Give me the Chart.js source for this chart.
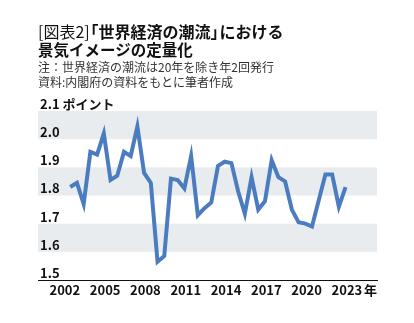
<!DOCTYPE html>
<html lang="ja">
<head>
<meta charset="utf-8">
<script src="https://cdn.jsdelivr.net/npm/chart.js@4/dist/chart.umd.min.js"></script>
<style>
  html, body { margin: 0; padding: 0; background: #fff; }
  #wrap { position: relative; width: 414px; height: 323px; overflow: hidden; font-family: "Noto Sans CJK JP", "Noto Sans", sans-serif; }
  #chart { position: absolute; left: 0; top: 0; }
  .head { position: absolute; left: 38px; color: #111; white-space: nowrap; }
  .t1 { top: 22px; font-size: 16px; font-weight: bold; line-height: 18px; }
  .t1 .light { font-weight: normal; }
  .t1 .ob { margin-left: -0.45em; }
  .t1 .cb { margin-right: -0.45em; }
  .t2 { top: 40px; font-size: 15.5px; font-weight: bold; line-height: 18px; }
  .n1 { top: 59px; font-size: 12px; line-height: 15px; color: #333; }
  .n2 { top: 74px; font-size: 12px; line-height: 15px; color: #333; }
</style>
</head>
<body>
<div id="wrap">
  <canvas id="chart" width="414" height="323"></canvas>
  <div class="head t1"><span class="light">[図表2]</span><span class="ob">「</span>世界経済の潮流<span class="cb">」</span>における</div>
  <div class="head t2">景気イメージの定量化</div>
  <div class="head n1">注：世界経済の潮流は20年を除き年2回発行</div>
  <div class="head n2">資料:内閣府の資料をもとに筆者作成</div>
</div>
<script>
// issues of the report (I = spring, II = autumn; 2020 only once)
const issues = [
    "2002-I", "2002-II", "2003-I", "2003-II", "2004-I", "2004-II",
    "2005-I", "2005-II", "2006-I", "2006-II", "2007-I", "2007-II",
    "2008-I", "2008-II", "2009-I", "2009-II", "2010-I", "2010-II",
    "2011-I", "2011-II", "2012-I", "2012-II", "2013-I", "2013-II",
    "2014-I", "2014-II", "2015-I", "2015-II", "2016-I", "2016-II",
    "2017-I", "2017-II", "2018-I", "2018-II", "2019-I", "2019-II",
    "2020", "2021-I", "2021-II", "2022-I", "2022-II"
];
const scores = [
    1.83, 1.845, 1.77, 1.955, 1.945, 2.02,
    1.855, 1.87, 1.955, 1.94, 2.045, 1.88,
    1.845, 1.565, 1.585, 1.86, 1.855, 1.825,
    1.94, 1.73, 1.755, 1.775, 1.905, 1.92,
    1.915, 1.815, 1.735, 1.865, 1.75, 1.78,
    1.925, 1.865, 1.85, 1.75, 1.705, 1.70,
    1.69, 1.875, 1.875, 1.76, 1.83
];
const yearTicks = [2002, 2005, 2008, 2011, 2014, 2017, 2020, 2023];
const valueTicks = [1.5, 1.6, 1.7, 1.8, 1.9, 2.0, 2.1];
const bands = [[2.0, 2.1], [1.8, 1.9], [1.6, 1.7]];

const issueTime = s => {
    const [y, h] = s.split("-");
    return Number(y) + (h === "II" ? 0.9 : 0.4);
};

const tickFont = {family: "'Noto Sans CJK JP', 'Noto Sans', sans-serif", size: 13, weight: "bold"};

const bandPlugin = {
    id: "bands",
    beforeDraw(chart) {
        const {ctx, chartArea, scales} = chart;
        ctx.save();
        ctx.fillStyle = "#e9ecef";
        bands.forEach(([lo, hi]) => {
            const top = scales.y.getPixelForValue(hi);
            const bottom = scales.y.getPixelForValue(lo);
            ctx.fillRect(chartArea.left, top, chartArea.right - chartArea.left, bottom - top);
        });
        ctx.restore();
    },
    afterDraw(chart) {
        const {ctx, scales} = chart;
        const x = scales.x.getPixelForValue(2023);
        ctx.save();
        ctx.font = "bold 13px 'Noto Sans CJK JP', sans-serif";
        ctx.fillStyle = "#111";
        ctx.textBaseline = "middle";
        ctx.textAlign = "left";
        ctx.fillText("年", x + 17, scales.x.top + 10);
        ctx.restore();
    }
};

new Chart(document.querySelector("#chart"), {
    type: "line",
    data: {
        datasets: [{
            data: issues.map((s, i) => ({x: issueTime(s), y: scores[i]})),
            borderColor: "#4a7cbf",
            borderWidth: 4,
            borderJoinStyle: "miter",
            pointRadius: 0,
            tension: 0
        }]
    },
    options: {
        responsive: false,
        animation: false,
        layout: {padding: {left: 38, right: 37, top: 111, bottom: 23}},
        plugins: {legend: {display: false}, tooltip: {enabled: false}},
        scales: {
            x: {
                type: "linear",
                min: 2000,
                max: 2025.24,
                afterBuildTicks: s => { s.ticks = yearTicks.map(v => ({value: v})); },
                afterFit: s => { s.height = 20; },
                grid: {display: false, drawTicks: false},
                border: {display: true, color: "#111", width: 1},
                ticks: {color: "#111", font: tickFont, padding: 2, maxRotation: 0, callback: v => String(v)}
            },
            y: {
                min: 1.5,
                max: 2.1,
                afterBuildTicks: s => { s.ticks = valueTicks.map(v => ({value: v})); },
                afterFit: s => { s.width = 0; },
                grid: {display: false, drawTicks: false},
                border: {display: false},
                ticks: {
                    mirror: true,
                    padding: 2,
                    labelOffset: -7,
                    color: "#111",
                    font: tickFont,
                    callback: v => v === 2.1 ? "2.1 ポイント" : v.toFixed(1)
                }
            }
        }
    },
    plugins: [bandPlugin]
});
</script>
</body>
</html>
